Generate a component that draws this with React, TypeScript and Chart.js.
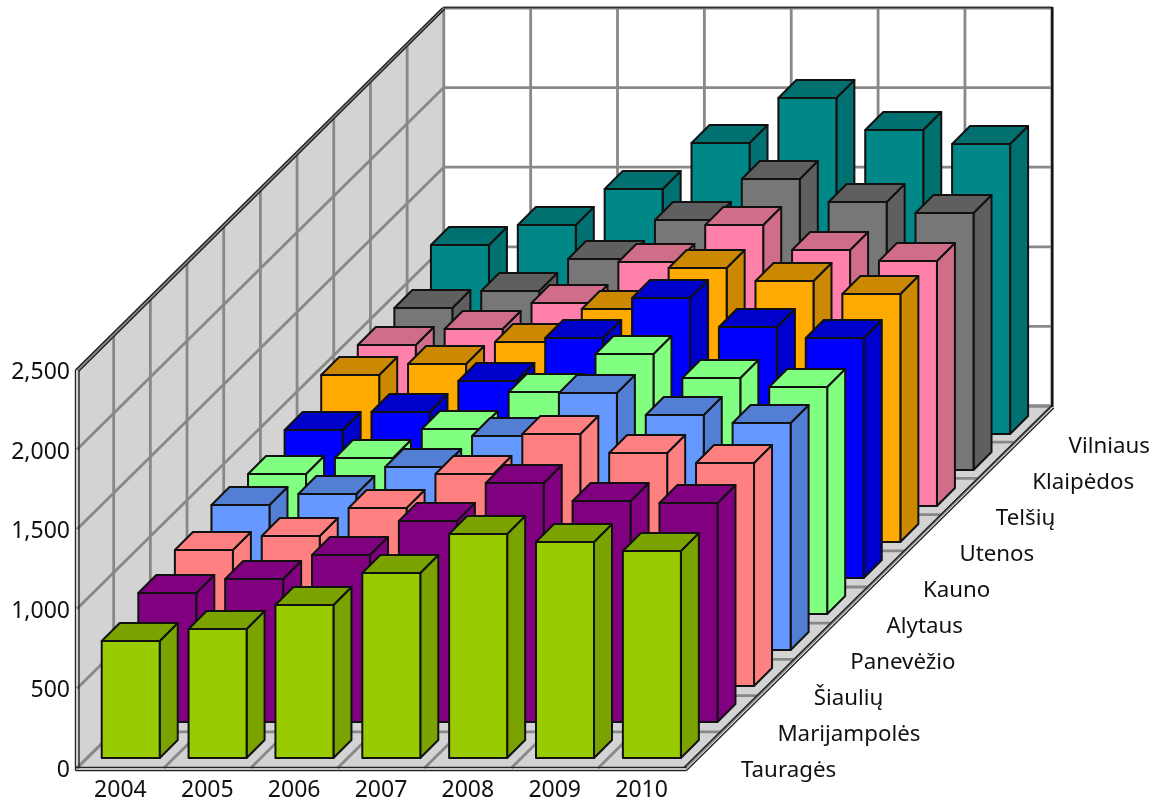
import React, { useEffect, useRef } from "react";
import { Chart, registerables } from "chart.js";

Chart.register(...registerables);

const years = ["2004", "2005", "2006", "2007", "2008", "2009", "2010"];
const regions = ["Tauragės", "Marijampolės", "Šiaulių", "Panevėžio", "Alytaus", "Kauno", "Utenos", "Telšių", "Klaipėdos", "Vilniaus"];

const taurages = [735, 810, 961, 1162, 1407, 1357, 1300];
const marijampoles = [810, 898, 1049, 1263, 1501, 1388, 1376];
const siauliu = [854, 942, 1118, 1332, 1583, 1464, 1401];
const panevezio = [911, 980, 1150, 1344, 1614, 1476, 1426];
const alytaus = [879, 980, 1162, 1394, 1633, 1482, 1426];
const kauno = [930, 1043, 1237, 1508, 1759, 1577, 1508];
const utenos = [1049, 1118, 1256, 1464, 1721, 1639, 1558];
const telsiu = [1011, 1112, 1275, 1533, 1765, 1608, 1539];
const klaipedos = [1018, 1124, 1325, 1570, 1828, 1683, 1614];
const vilniaus = [1187, 1313, 1539, 1828, 2111, 1910, 1822];

const seriesValues = [taurages, marijampoles, siauliu, panevezio, alytaus, kauno, utenos, telsiu, klaipedos, vilniaus];
const frontColors = ["#99CC00", "#800080", "#FF8080", "#6699FF", "#80FF80", "#0000FF", "#FFAA00", "#FF80A8", "#777777", "#008888"];
const sideColors = ["#7AA300", "#800080", "#FF8080", "#527FD4", "#80FF80", "#0000CC", "#CC8800", "#D06E8A", "#5F5F5F", "#007070"];

const FONT = "'Noto Sans', sans-serif";
const FONT_SIZE = 23;
const DEPTH_FONT_SIZE = 22.3;
const UNIT_X = 36.68;
const UNIT_Y = 36.2;
const BAR_UNIT_X = 36.58;
const BAR_UNIT_Y = 36;
const LABEL_UNIT_X = 36.4;
const LABEL_UNIT_Y = 36;
const BAR_DEPTH = 18;
const BAR_SHIFT_X = 10.3;
const BAR_SHIFT_Y = 10;
const GRID = "#888888";
const WALL = "#D3D3D3";

const line = (ctx: CanvasRenderingContext2D, x1: number, y1: number, x2: number, y2: number) => {
  ctx.beginPath();
  ctx.moveTo(x1, y1);
  ctx.lineTo(x2, y2);
  ctx.stroke();
};

const poly = (ctx: CanvasRenderingContext2D, pts: number[][], fill: string) => {
  ctx.beginPath();
  pts.forEach((p, i) => (i ? ctx.lineTo(p[0], p[1]) : ctx.moveTo(p[0], p[1])));
  ctx.closePath();
  ctx.fillStyle = fill;
  ctx.fill();
  ctx.stroke();
};

const room3d = {
  id: "room3d",
  beforeDraw(chart: any) {
    for (const item of chart.scales.y.getLabelItems(chart.chartArea)) {
      item.textOffset += 2.5;
    }
  },
  beforeDatasetsDraw(chart: any) {
    const { ctx, chartArea, scales } = chart;
    const { left, right, bottom, top } = chartArea;
    const n = regions.length;
    const dX = UNIT_X * n;
    const dY = UNIT_Y * n;
    const cell = (right - left) / years.length;
    ctx.save();
    ctx.lineCap = "butt";

    ctx.fillStyle = "#FFFFFF";
    ctx.fillRect(left + dX, top - dY, right - left, bottom - top);

    ctx.fillStyle = WALL;
    ctx.beginPath();
    ctx.moveTo(left, bottom);
    ctx.lineTo(left, top);
    ctx.lineTo(left + dX, top - dY);
    ctx.lineTo(left + dX, bottom - dY);
    ctx.closePath();
    ctx.fill();
    ctx.beginPath();
    ctx.moveTo(left, bottom);
    ctx.lineTo(right, bottom);
    ctx.lineTo(right + dX, bottom - dY);
    ctx.lineTo(left + dX, bottom - dY);
    ctx.closePath();
    ctx.fill();

    ctx.strokeStyle = GRID;
    ctx.lineWidth = 2.8;
    for (const tick of scales.y.ticks) {
      const y = scales.y.getPixelForValue(tick.value);
      line(ctx, left, y, left + dX, y - dY);
      line(ctx, left + dX, y - dY, right + dX, y - dY);
    }
    for (let k = 1; k <= n; k++) {
      const x = left + UNIT_X * k;
      const y = UNIT_Y * k;
      line(ctx, x, bottom - y, x, top - y);
      line(ctx, x, bottom - y, right + UNIT_X * k, bottom - y);
    }
    for (let j = 0; j <= years.length; j++) {
      const x = left + cell * j;
      line(ctx, x, bottom, x + dX, bottom - dY);
      if (j) line(ctx, x + dX, bottom - dY, x + dX, top - dY);
    }

    // frame
    ctx.strokeStyle = "#222222";
    ctx.lineWidth = 1.4;
    line(ctx, left - 1.5, top, left - 1.5, bottom + 2.5);
    line(ctx, left + 2, top, left + 2, bottom - 0.5);
    line(ctx, left - 1.5, bottom - 0.5, right + 1.5, bottom - 0.5);
    line(ctx, left - 1.5, bottom + 2.5, right + 1.5, bottom + 2.5);
    line(ctx, left - 1.5, top, left + dX - 1.5, top - dY);
    line(ctx, left + 2, top + 1, left + dX + 1, top - dY + 1);
    line(ctx, right + 1.5, bottom + 2.5, right + dX + 2, bottom - dY + 2);
    line(ctx, right - 1, bottom - 0.5, right + dX, bottom - dY - 0.5);
    ctx.strokeStyle = "#333333";
    ctx.lineWidth = 1.6;
    line(ctx, left + dX - 1, top - dY - 0.5, right + dX + 1, top - dY - 0.5);
    ctx.strokeStyle = "#111111";
    ctx.lineWidth = 2.4;
    line(ctx, right + dX + 0.5, top - dY - 1, right + dX + 0.5, bottom - dY + 1);
    ctx.restore();
  },
  beforeDatasetDraw(chart: any, args: any) {
    const { ctx } = chart;
    const i = args.index;
    const sx = BAR_SHIFT_X + BAR_UNIT_X * i;
    const sy = BAR_SHIFT_Y + BAR_UNIT_Y * i;
    ctx.save();
    ctx.strokeStyle = "#111111";
    ctx.lineWidth = 2;
    ctx.lineJoin = "round";
    for (const el of args.meta.data) {
      const { x, y, base, width } = el.getProps(["x", "y", "base", "width"], true);
      const x0 = x - width / 2 + sx;
      const x1 = x + width / 2 + sx;
      const t = y - sy;
      const b = base - sy;
      poly(ctx, [[x1, t], [x1 + BAR_DEPTH, t - BAR_DEPTH], [x1 + BAR_DEPTH, b - BAR_DEPTH], [x1, b]], sideColors[i]);
      poly(ctx, [[x0, t], [x0 + BAR_DEPTH, t - BAR_DEPTH], [x1 + BAR_DEPTH, t - BAR_DEPTH], [x1, t]], sideColors[i]);
      poly(ctx, [[x0, t], [x1, t], [x1, b], [x0, b]], frontColors[i]);
    }
    ctx.restore();
    return false;
  },
  afterDatasetsDraw(chart: any) {
    const { ctx, chartArea } = chart;
    ctx.save();
    ctx.font = `${DEPTH_FONT_SIZE}px ${FONT}`;
    ctx.fillStyle = "#111111";
    ctx.textAlign = "left";
    ctx.textBaseline = "middle";
    regions.forEach((name, i) => {
      ctx.fillText(name, chartArea.right + 56 + LABEL_UNIT_X * i, chartArea.bottom + 3 - LABEL_UNIT_Y * i);
    });
    ctx.restore();
  },
};

export default function App() {
  const ref = useRef<HTMLCanvasElement | null>(null);
  useEffect(() => {
    if (!ref.current) return;
    const chart = new Chart(ref.current, {
      type: "bar",
      data: {
        labels: years,
        datasets: seriesValues.map((data, i) => ({
          label: regions[i],
          data,
          grouped: false,
          barThickness: 58,
          backgroundColor: frontColors[i],
          borderColor: "#111111",
          borderWidth: 1,
        })),
      },
      options: {
        responsive: false,
        animation: false,
        devicePixelRatio: 1,
        layout: { padding: { left: 0, right: 471, top: 370, bottom: 0 } },
        plugins: { legend: { display: false }, title: { display: false }, tooltip: { enabled: false } },
        scales: {
          x: {
            type: "category",
            grid: { display: false, drawTicks: false },
            border: { display: false },
            ticks: { color: "#111111", font: { family: FONT, size: FONT_SIZE }, padding: 9, maxRotation: 0 },
            afterFit: (s: any) => { s.height = 36; },
          },
          y: {
            type: "linear",
            min: 0,
            max: 2500,
            grid: { display: false, drawTicks: false },
            border: { display: false },
            ticks: { stepSize: 500, color: "#111111", font: { family: FONT, size: FONT_SIZE }, padding: 7 },
            afterFit: (s: any) => { s.width = 77; },
          },
        },
      },
      plugins: [room3d],
    } as any);
    return () => chart.destroy();
  }, []);
  return (
    <div style={{ position: "absolute", left: 0, top: 0, width: 1156, height: 804, background: "#fff" }}>
      <canvas ref={ref} width={1156} height={804} style={{ display: "block" }} />
    </div>
  );
}
